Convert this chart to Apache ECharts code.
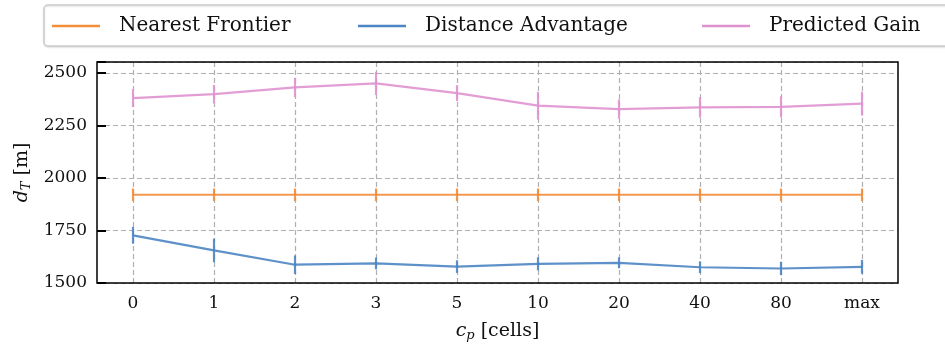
<!DOCTYPE html>
<html>
<head>
<meta charset="utf-8">
<script src="https://cdn.jsdelivr.net/npm/echarts@6/dist/echarts.min.js"></script>
<style>html,body{margin:0;padding:0;background:#fff;}#c{width:945px;height:344px;}</style>
</head>
<body>
<div id="c"></div>
<script>
const categories = ['0', '1', '2', '3', '5', '10', '20', '40', '80', 'max'];
const nearestFrontier = [1920, 1920, 1920, 1920, 1920, 1920, 1920, 1920, 1920, 1920];
const nearestFrontierErr = [30, 30, 30, 30, 30, 30, 30, 30, 30, 30];
const distanceAdvantage = [1727, 1655, 1587, 1593, 1578, 1591, 1596, 1575, 1569, 1577];
const distanceAdvantageErr = [40, 56, 44, 28, 30, 31, 26, 28, 32, 33];
const predictedGain = [2380, 2399, 2431, 2450, 2404, 2344, 2328, 2336, 2338, 2354];
const predictedGainErr = [43, 44, 46, 55, 38, 66, 46, 49, 51, 57];
const yTicks = [1500, 1750, 2000, 2250, 2500];
const seriesNames = ['Nearest Frontier', 'Distance Advantage', 'Predicted Gain'];

const FONT = 'DejaVu Serif';
const colors = { nf: '#f28e3c', da: '#4c85c3', pg: '#e092d0' };

function pts(vals) { return vals.map((v, i) => [i, v]); }
function errData(vals, errs) { return vals.map((v, i) => [i, v - errs[i], v + errs[i]]); }

function errSeries(name, vals, errs, color) {
  return {
    type: 'custom',
    name: name + ' err',
    xAxisIndex: 1, yAxisIndex: 1,
    silent: true,
    z: 3,
    data: errData(vals, errs),
    renderItem: function (params, api) {
      const lo = api.coord([api.value(0), api.value(1)]);
      const hi = api.coord([api.value(0), api.value(2)]);
      return {
        type: 'line',
        shape: { x1: lo[0], y1: lo[1], x2: hi[0], y2: hi[1] },
        style: { stroke: color, lineWidth: 2.2, opacity: 0.9 }
      };
    }
  };
}

function lineSeries(name, vals, color) {
  return {
    type: 'line',
    name: name,
    xAxisIndex: 1, yAxisIndex: 1,
    data: pts(vals),
    symbol: 'none',
    z: 4,
    lineStyle: { color: color, width: 2.2, opacity: 0.9 },
    itemStyle: { color: color }
  };
}

function legendFor(name, left) {
  return {
    left: left, top: 16,
    padding: 0,
    itemWidth: 48, itemHeight: 2.5,
    icon: 'rect',
    z: 10,
    textStyle: { fontFamily: FONT, fontSize: 20, color: '#111', padding: [0, 0, 0, 14] },
    data: [name]
  };
}

const yMin = 1500, yMax = 2552;
const chart = echarts.init(document.getElementById('c'), null, { renderer: 'canvas' });
chart.setOption({
  animation: false,
  graphic: [{
    type: 'rect',
    z: 1,
    shape: { x: 44, y: 5, width: 920, height: 41, r: 4 },
    style: { fill: '#fff', stroke: '#cccccc', lineWidth: 1.5, shadowColor: 'rgba(0,0,0,0.12)', shadowBlur: 2, shadowOffsetY: 1 }
  }],
  legend: [
    legendFor(seriesNames[0], 52),
    legendFor(seriesNames[1], 358),
    legendFor(seriesNames[2], 702)
  ],
  grid: [
    { left: 97, right: 47, top: 62, bottom: 61, show: true, borderColor: '#000', borderWidth: 1.5, backgroundColor: 'transparent', z: 5, outerBoundsMode: 'none', containLabel: false },
    { left: 133, right: 83, top: 62, bottom: 61, outerBoundsMode: 'none', containLabel: false }
  ],
  xAxis: [
    { gridIndex: 0, type: 'value', min: 0, max: 1, show: false },
    {
      gridIndex: 1, type: 'value', min: 0, max: categories.length - 1, interval: 1,
      axisLine: { show: false },
      axisTick: { show: false },
      axisLabel: { fontFamily: FONT, fontSize: 17, color: '#111', margin: 12, formatter: v => categories[Math.round(v)] },
      splitLine: { show: true, lineStyle: { color: '#b0b0b0', type: [5, 3], width: 1.2 } },
      name: '{i|c}{s|p} [cells]',
      nameLocation: 'middle', nameGap: 38,
      nameTextStyle: {
        fontFamily: FONT, fontSize: 19, color: '#111',
        rich: {
          i: { fontFamily: FONT, fontStyle: 'italic', fontSize: 19, color: '#111' },
          s: { fontFamily: FONT, fontStyle: 'italic', fontSize: 13, color: '#111', padding: [8, 0, 0, 0] }
        }
      }
    }
  ],
  yAxis: [
    {
      gridIndex: 0, type: 'value', min: yMin, max: yMax, interval: 250,
      axisLine: { show: false },
      axisTick: { show: true, inside: true, length: 9, lineStyle: { color: '#000', width: 2 } },
      axisLabel: {
        fontFamily: FONT, fontSize: 17, color: '#111', margin: 10,
        formatter: v => (yTicks.indexOf(v) >= 0 ? String(v) : '')
      },
      splitLine: { show: true, lineStyle: { color: '#b0b0b0', type: [5, 3], width: 1.2 } },
      name: '{i|d}{s|T} [m]',
      nameLocation: 'middle', nameGap: 63, nameRotate: 90,
      nameTextStyle: {
        fontFamily: FONT, fontSize: 19, color: '#111',
        rich: {
          i: { fontFamily: FONT, fontStyle: 'italic', fontSize: 19, color: '#111' },
          s: { fontFamily: FONT, fontStyle: 'italic', fontSize: 13, color: '#111', padding: [8, 0, 0, 0] }
        }
      }
    },
    { gridIndex: 1, type: 'value', min: yMin, max: yMax, show: false }
  ],
  series: [
    lineSeries(seriesNames[0], nearestFrontier, colors.nf),
    lineSeries(seriesNames[1], distanceAdvantage, colors.da),
    lineSeries(seriesNames[2], predictedGain, colors.pg),
    errSeries(seriesNames[0], nearestFrontier, nearestFrontierErr, colors.nf),
    errSeries(seriesNames[1], distanceAdvantage, distanceAdvantageErr, colors.da),
    errSeries(seriesNames[2], predictedGain, predictedGainErr, colors.pg)
  ]
});
</script>
</body>
</html>
